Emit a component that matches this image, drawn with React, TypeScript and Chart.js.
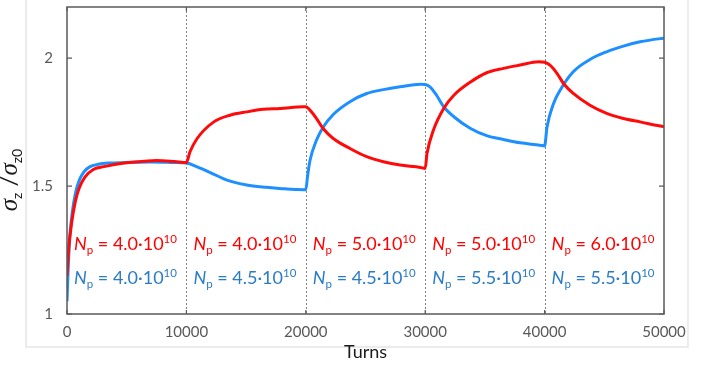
import React, { useEffect, useRef } from 'react';
import { Chart, registerables } from 'chart.js';

Chart.register(...registerables);

// ---- data ----
const redTurns = [0, 150, 400, 700, 1000, 1500, 2200, 3200, 4500, 6500, 7500, 9000, 10000,
  10300, 10900, 12300, 13650, 15050, 16450, 17850, 19800, 20000,
  20350, 20900, 21450, 22300, 23700, 25100, 26500, 27900, 29600, 30000,
  30150, 30700, 31550, 32400, 33800, 35150, 36550, 37950, 39500, 40000,
  40450, 41050, 41600, 42400, 43800, 45200, 46600, 48000, 49800, 50000];
const redValues = [1.15, 1.26, 1.36, 1.44, 1.49, 1.535, 1.565, 1.577, 1.588, 1.597, 1.6, 1.596, 1.592,
  1.634, 1.686, 1.751, 1.777, 1.79, 1.8, 1.803, 1.81, 1.81,
  1.797, 1.764, 1.725, 1.686, 1.647, 1.615, 1.595, 1.582, 1.573, 1.569,
  1.627, 1.72, 1.803, 1.855, 1.907, 1.943, 1.96, 1.973, 1.986, 1.984,
  1.973, 1.94, 1.9, 1.862, 1.816, 1.784, 1.764, 1.751, 1.734, 1.733];

const blueTurns = [0, 100, 250, 450, 700, 1000, 1400, 1900, 2600, 3500, 5000, 7000, 9000, 10000,
  10900, 12000, 13400, 15050, 16700, 18000, 19900, 20000,
  20150, 20350, 20900, 21450, 22300, 23700, 25100, 26500, 27900, 29600, 30000,
  30400, 30950, 31550, 32400, 33800, 35150, 36550, 37950, 39600, 40000,
  40200, 40750, 41300, 42400, 43800, 45200, 46600, 48000, 49800, 50000];
const blueValues = [1.05, 1.18, 1.31, 1.4, 1.47, 1.52, 1.555, 1.575, 1.585, 1.59, 1.592, 1.594, 1.592, 1.59,
  1.575, 1.553, 1.523, 1.504, 1.495, 1.49, 1.486, 1.486,
  1.54, 1.6, 1.68, 1.73, 1.78, 1.83, 1.862, 1.877, 1.888, 1.898, 1.897,
  1.888, 1.855, 1.81, 1.771, 1.725, 1.697, 1.682, 1.669, 1.66, 1.657,
  1.73, 1.823, 1.875, 1.947, 1.995, 2.025, 2.047, 2.064, 2.077, 2.078];

const xTicks = [0, 10000, 20000, 30000, 40000, 50000];
const yTicks = [1, 1.5, 2];
const segmentStarts = [0, 10000, 20000, 30000, 40000];
const redNp = ['4.0', '4.0', '5.0', '5.0', '6.0'];
const blueNp = ['4.0', '4.5', '4.5', '5.5', '5.5'];

const RED = '#ff0a0a';
const BLUE = '#1e8fff';
const RED_TEXT = '#ff0000';
const BLUE_TEXT = '#2a7cc7';
const FONT = 'Lato';

type Run = { t: string; font: string; dy?: number };

function drawRuns(ctx: CanvasRenderingContext2D, x: number, y: number, runs: Run[]) {
  let cx = x;
  for (const r of runs) {
    ctx.font = r.font;
    ctx.fillText(r.t, cx, y + (r.dy || 0));
    cx += ctx.measureText(r.t).width;
  }
}

function runsWidth(ctx: CanvasRenderingContext2D, runs: Run[]) {
  let w = 0;
  for (const r of runs) {
    ctx.font = r.font;
    w += ctx.measureText(r.t).width;
  }
  return w;
}

function npRuns(v: string): Run[] {
  return [
    { t: 'N', font: `italic 18px ${FONT}` },
    { t: 'p', font: `11.5px ${FONT}`, dy: 4 },
    { t: ' = ' + v + '\u00b710', font: `18px ${FONT}` },
    { t: '10', font: `11.5px ${FONT}`, dy: -7 },
  ];
}

const decorations = {
  id: 'decorations',
  beforeDraw(chart: any) {
    const ctx = chart.ctx as CanvasRenderingContext2D;
    ctx.save();
    ctx.strokeStyle = '#e6e6e6';
    ctx.lineWidth = 1.5;
    ctx.beginPath();
    ctx.moveTo(26, 0);
    ctx.lineTo(26, 347);
    ctx.lineTo(688, 347);
    ctx.lineTo(688, 0);
    ctx.stroke();
    ctx.restore();
  },
  beforeDatasetsDraw(chart: any) {
    const ctx = chart.ctx as CanvasRenderingContext2D;
    const { top, bottom } = chart.chartArea;
    const xs = chart.scales.x;
    ctx.save();
    ctx.strokeStyle = '#808080';
    ctx.lineWidth = 1;
    ctx.setLineDash([2, 2]);
    for (const v of xTicks.slice(1, -1)) {
      const px = Math.round(xs.getPixelForValue(v)) + 0.5;
      ctx.beginPath();
      ctx.moveTo(px, top);
      ctx.lineTo(px, bottom);
      ctx.stroke();
    }
    ctx.restore();
  },
  afterDatasetsDraw(chart: any) {
    const ctx = chart.ctx as CanvasRenderingContext2D;
    const { left, right, top, bottom } = chart.chartArea;
    const xs = chart.scales.x;
    const ys = chart.scales.y;
    ctx.save();
    // frame
    ctx.strokeStyle = '#5a5a5a';
    ctx.lineWidth = 1.5;
    ctx.strokeRect(left, top, right - left, bottom - top);
    // inward ticks
    ctx.lineWidth = 1.2;
    ctx.beginPath();
    for (const v of yTicks) {
      const py = ys.getPixelForValue(v);
      ctx.moveTo(left, py); ctx.lineTo(left + 5, py);
      ctx.moveTo(right, py); ctx.lineTo(right - 5, py);
    }
    for (const v of xTicks) {
      const px = xs.getPixelForValue(v);
      ctx.moveTo(px, bottom); ctx.lineTo(px, bottom - 4);
      ctx.moveTo(px, top); ctx.lineTo(px, top + 4);
    }
    ctx.stroke();

    // annotations
    ctx.textBaseline = 'alphabetic';
    ctx.textAlign = 'left';
    segmentStarts.forEach((s, i) => {
      const x0 = xs.getPixelForValue(s) + 7;
      ctx.fillStyle = RED_TEXT;
      drawRuns(ctx, x0, 250, npRuns(redNp[i]));
      ctx.fillStyle = BLUE_TEXT;
      drawRuns(ctx, x0, 284, npRuns(blueNp[i]));
    });

    // x title
    ctx.fillStyle = '#1a1a1a';
    ctx.font = `18px ${FONT}`;
    ctx.textAlign = 'center';
    ctx.fillText('Turns', (left + right) / 2, 358);

    // y title
    const yRuns: Run[] = [
      { t: '\u03c3', font: `italic 25px 'Liberation Serif'` },
      { t: 'z', font: `14px ${FONT}`, dy: 5 },
      { t: ' /', font: `24px ${FONT}` },
      { t: '\u03c3', font: `italic 25px 'Liberation Serif'` },
      { t: 'z0', font: `14px ${FONT}`, dy: 5 },
    ];
    ctx.textAlign = 'left';
    ctx.translate(0, 180);
    ctx.rotate(-Math.PI / 2);
    const w = runsWidth(ctx, yRuns);
    drawRuns(ctx, -w / 2, 17, yRuns);
    ctx.restore();
  },
};

export default function App() {
  const canvasRef = useRef<HTMLCanvasElement | null>(null);

  useEffect(() => {
    const canvas = canvasRef.current;
    if (!canvas) return;
    const chart = new Chart(canvas, {
      type: 'line',
      data: {
        datasets: [
          {
            label: 'red',
            data: redTurns.map((t, i) => ({ x: t, y: redValues[i] })),
            borderColor: RED,
            borderWidth: 3,
            pointRadius: 0,
            cubicInterpolationMode: 'monotone',
            fill: false,
          },
          {
            label: 'blue',
            data: blueTurns.map((t, i) => ({ x: t, y: blueValues[i] })),
            borderColor: BLUE,
            borderWidth: 3,
            pointRadius: 0,
            cubicInterpolationMode: 'monotone',
            fill: false,
          },
        ],
      },
      options: {
        animation: false,
        responsive: false,
        maintainAspectRatio: false,
        layout: { padding: { left: 0, right: 37, top: 7, bottom: 0 } },
        plugins: { legend: { display: false }, tooltip: { enabled: false } },
        scales: {
          x: {
            type: 'linear',
            min: 0,
            max: 50000,
            grid: { display: false, drawTicks: false },
            border: { display: false },
            afterBuildTicks: (s: any) => { s.ticks = xTicks.map((v) => ({ value: v })); },
            afterFit: (s: any) => { s.height = 51; },
            ticks: {
              padding: 9,
              color: '#595959',
              font: { family: FONT, size: 15 },
              maxRotation: 0,
              autoSkip: false,
              callback: (v: any) => String(v),
            },
          },
          y: {
            type: 'linear',
            min: 1,
            max: 2.2,
            grid: { display: false, drawTicks: false },
            border: { display: false },
            afterBuildTicks: (s: any) => { s.ticks = yTicks.map((v) => ({ value: v })); },
            afterFit: (s: any) => { s.width = 67; s.paddingTop = 0; s.paddingBottom = 0; },
            ticks: {
              padding: 14,
              color: '#595959',
              font: { family: FONT, size: 15 },
              callback: (v: any) => String(v),
            },
          },
        },
      },
      plugins: [decorations],
    } as any);
    return () => chart.destroy();
  }, []);

  return (
    <div style={{ position: 'absolute', left: 0, top: 0, width: 701, height: 365, background: '#fff' }}>
      <canvas ref={canvasRef} width={701} height={365} style={{ display: 'block' }} />
    </div>
  );
}
